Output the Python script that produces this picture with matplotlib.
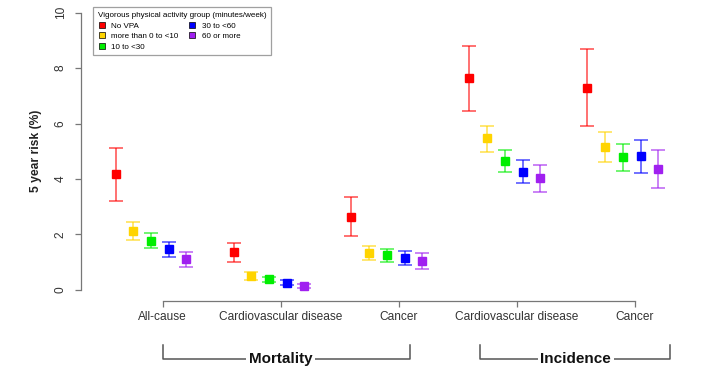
# 5 year risk by vigorous physical activity group
import matplotlib
matplotlib.use("Agg")
import matplotlib.pyplot as plt
from matplotlib.lines import Line2D
import numpy as np

plt.rcParams['font.family'] = ['Liberation Sans', 'DejaVu Sans']

outcomes = ["All-cause", "Cardiovascular disease", "Cancer", "Cardiovascular disease", "Cancer"]
groups = ["No VPA", "more than 0 to <10", "10 to <30", "30 to <60", "60 or more"]
colores = ["#FF0000", "#FFD400", "#00EE00", "#0000FF", "#A020F0"]

# risk (%) per outcome, one row per activity group
riesgo = np.array([
    [4.18, 1.35, 2.64, 7.64, 7.29],
    [2.12, 0.48, 1.32, 5.47, 5.15],
    [1.77, 0.38, 1.24, 4.65, 4.79],
    [1.47, 0.25, 1.14, 4.26, 4.83],
    [1.10, 0.13, 1.05, 4.02, 4.36],
])
inferior = np.array([
    [3.19, 0.99, 1.94, 6.46, 5.90],
    [1.79, 0.34, 1.06, 4.98, 4.60],
    [1.52, 0.27, 1.00, 4.26, 4.30],
    [1.19, 0.17, 0.88, 3.84, 4.21],
    [0.83, 0.05, 0.75, 3.52, 3.66],
])
superior = np.array([
    [5.13, 1.70, 3.34, 8.81, 8.69],
    [2.43, 0.63, 1.58, 5.91, 5.70],
    [2.04, 0.47, 1.47, 5.03, 5.27],
    [1.73, 0.36, 1.41, 4.68, 5.42],
    [1.36, 0.22, 1.34, 4.51, 5.04],
])
desplaz = [-0.4, -0.25, -0.1, 0.05, 0.2]

fig = plt.figure(figsize=(7.09, 3.74), dpi=100)
ax = fig.add_axes([0, 0, 1, 1])
ax.set_xlim(-0.379, 5.63)
ax.set_ylim(-3.04, 10.46)

x = np.arange(1, 6)
for i in range(5):
    xs = x + desplaz[i]
    err = [riesgo[i] - inferior[i], superior[i] - riesgo[i]]
    ax.errorbar(xs, riesgo[i], yerr=err, fmt='none', ecolor=colores[i],
                alpha=0.65, elinewidth=1.2, capsize=5, capthick=1.2)
    ax.plot(xs, riesgo[i], 's', color=colores[i], markersize=5.5)

# R style axes
for s in ["top", "right"]:
    ax.spines[s].set_visible(False)
ax.spines['left'].set_position(('data', 0.305))
ax.spines['left'].set_bounds(0, 10)
ax.spines['bottom'].set_position(('data', -0.41))
ax.spines['bottom'].set_bounds(1, 5)
for s in ["left", "bottom"]:
    ax.spines[s].set_color("#777777")
    ax.spines[s].set_linewidth(0.9)

ax.set_yticks([0, 2, 4, 6, 8, 10])
ax.set_yticklabels(["0", "2", "4", "6", "8", "10"], rotation=90, va='center')
ax.set_xticks(x)
ax.set_xticklabels(outcomes)
ax.tick_params(axis='both', colors="#777777", labelcolor="#333333",
               labelsize=8.6, length=4, width=0.9)
ax.tick_params(axis='y', pad=6)
ax.tick_params(axis='x', pad=3)

ax.text(-0.07, 5, "5 year risk (%)", rotation=90, ha='center', va='center',
        fontsize=8.7, fontweight='bold', color="#222222")

# brackets Mortality / Incidence
yb = -2.49
yt = -2.0
for (a, b, nombre, xc) in [(1, 3.1, "Mortality", 2.0), (3.69, 5.3, "Incidence", 4.5)]:
    ax.plot([a, a, b, b], [yt, yb, yb, yt], color="#555555", lw=1.1, clip_on=False)
    ax.text(xc, yb, nombre, ha='center', va='center', fontsize=11, fontweight='bold',
            color="#111111", bbox=dict(facecolor='white', edgecolor='none', pad=2))

handles = [Line2D([], [], marker='s', linestyle='none', markerfacecolor=c,
                  markeredgecolor='black', markeredgewidth=0.5, markersize=5)
           for c in colores]
leg = ax.legend(handles, groups, loc='upper left', bbox_to_anchor=(92.7 / 709, 1 - 7.3 / 374),
                ncol=2, fontsize=5.8, title="Vigorous physical activity group (minutes/week)",
                title_fontsize=5.75, frameon=True, fancybox=False, edgecolor="#888888",
                handlelength=1.0, handletextpad=0.7, columnspacing=1.2,
                labelspacing=0.35, borderpad=0.6, borderaxespad=0, alignment='left')
leg.get_frame().set_linewidth(0.9)

fig.savefig("out.png", dpi=100)
